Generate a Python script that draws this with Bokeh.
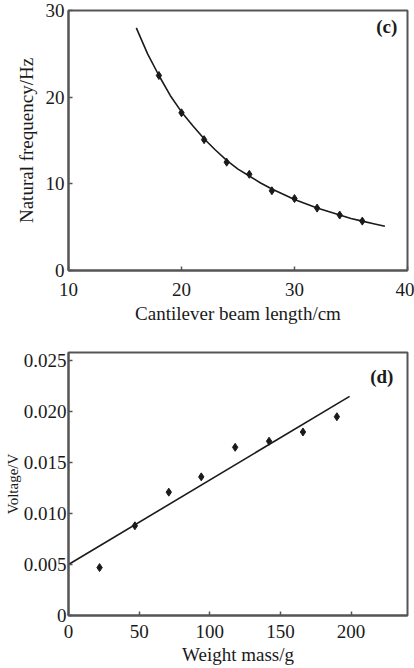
import math
from bokeh.plotting import figure
from bokeh.layouts import column
from bokeh.models import Range1d, FixedTicker, Label
from bokeh.embed import file_html
from bokeh.resources import INLINE

# ---- panel (c) data ----
beam_len = [18, 20, 22, 24, 26, 28, 30, 32, 34, 36]
nat_freq = [22.5, 18.2, 15.1, 12.5, 11.1, 9.2, 8.3, 7.2, 6.4, 5.7]
fit_len = [16, 17, 18, 19, 20, 21, 22, 23, 24, 25, 26, 27, 28, 29, 30, 31, 32, 33, 34, 35, 36, 37, 38]
fit_freq = [28.0, 25.0, 22.5, 20.2, 18.3, 16.7, 15.2, 13.9, 12.7, 11.7, 10.9, 10.1, 9.4,
            8.8, 8.2, 7.7, 7.2, 6.8, 6.4, 6.0, 5.7, 5.4, 5.1]
c_xticks = [10, 20, 30, 40]
c_yticks = [0, 10, 20, 30]

# ---- panel (d) data ----
mass = [22, 47, 71, 94, 118, 142, 166, 190]
voltage = [0.0047, 0.0088, 0.0121, 0.0136, 0.0165, 0.0171, 0.0180, 0.0195]
fit_mass = [0, 199]
fit_voltage = [0.0050, 0.0215]
d_xticks = [0, 50, 100, 150, 200]
d_yticks = [0, 0.005, 0.010, 0.015, 0.020, 0.025]
d_ylabels = ["0", "0.005", "0.010", "0.015", "0.020", "0.025"]

FONT = "Liberation Serif"
INK = "#1a1a1a"
FRAME = "#555555"
FS = "19px"


def style(p):
    p.outline_line_color = FRAME
    p.outline_line_width = 2
    p.xgrid.visible = False
    p.ygrid.visible = False
    p.background_fill_color = "white"
    p.border_fill_color = "white"
    for ax in (p.xaxis[0], p.yaxis[0]):
        ax.axis_line_color = FRAME
        ax.axis_line_width = 2
        ax.major_tick_in = 4
        ax.major_tick_out = 0
        ax.major_tick_line_color = FRAME
        ax.major_tick_line_width = 1.5
        ax.minor_tick_line_color = None
        ax.major_label_text_font = FONT
        ax.major_label_text_font_size = FS
        ax.major_label_text_color = INK
        ax.axis_label_text_font = FONT
        ax.axis_label_text_font_size = FS
        ax.axis_label_text_font_style = "normal"
        ax.axis_label_text_color = INK


p1 = figure(width=414, height=330, output_backend="svg", toolbar_location=None,
            x_range=Range1d(10, 40), y_range=Range1d(0, 30),
            min_border_left=66, min_border_right=7, min_border_top=10, min_border_bottom=60)
style(p1)
p1.xaxis[0].ticker = FixedTicker(ticks=c_xticks)
p1.yaxis[0].ticker = FixedTicker(ticks=c_yticks)
p1.xaxis[0].axis_label = "Cantilever beam length/cm"
p1.yaxis[0].axis_label = "Natural frequency/Hz"
p1.xaxis[0].major_label_standoff = 12
p1.xaxis[0].axis_label_standoff = 4
p1.yaxis[0].major_label_standoff = 4
p1.yaxis[0].axis_label_standoff = 6
p1.line(fit_len, fit_freq, line_color=INK, line_width=1.6)
p1.scatter(beam_len, nat_freq, marker="diamond", size=8, color=INK)
p1.add_layout(Label(x=39.1, y=28.2, text="(c)", text_align="right", text_baseline="middle",
                    text_font=FONT, text_font_size="19px", text_font_style="bold",
                    text_color=INK))

p2 = figure(width=414, height=338, output_backend="svg", toolbar_location=None,
            x_range=Range1d(0, 240), y_range=Range1d(0, 0.0258),
            min_border_left=68, min_border_right=2, min_border_top=22, min_border_bottom=53)
style(p2)
p2.xaxis[0].ticker = FixedTicker(ticks=d_xticks)
p2.yaxis[0].ticker = FixedTicker(ticks=d_yticks)
p2.yaxis[0].major_label_overrides = {t: s for t, s in zip(d_yticks, d_ylabels)}
p2.yaxis[0].major_label_standoff = 2
p2.yaxis[0].axis_label = "Voltage/V"
p2.yaxis[0].axis_label_text_font_size = "15px"
p2.yaxis[0].axis_label_standoff = 0
p2.xaxis[0].axis_label = "Weight mass/g"
p2.xaxis[0].major_label_standoff = 9
p2.xaxis[0].axis_label_standoff = 3
p2.line(fit_mass, fit_voltage, line_color=INK, line_width=1.6)
p2.scatter(mass, voltage, marker="diamond", size=8, color=INK)
p2.add_layout(Label(x=230, y=0.0234, text="(d)", text_align="right", text_baseline="middle",
                    text_font=FONT, text_font_size="19px", text_font_style="bold",
                    text_color=INK))

layout = column(p1, p2, spacing=0)
open("out.html", "w").write(file_html(layout, INLINE))
